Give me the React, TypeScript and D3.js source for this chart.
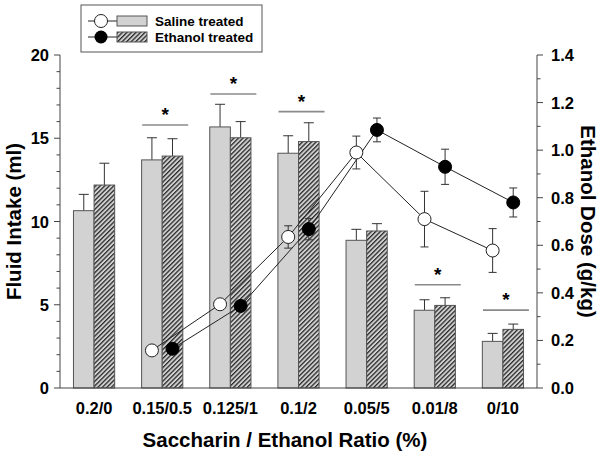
import React from "react";
import * as d3 from "d3";

const categories = ["0.2/0", "0.15/0.5", "0.125/1", "0.1/2", "0.05/5", "0.01/8", "0/10"];
const salineIntake = [10.65, 13.7, 15.68, 14.1, 8.87, 4.67, 2.8];
const salineIntakeErr = [0.98, 1.33, 1.36, 1.05, 0.66, 0.63, 0.48];
const ethanolIntake = [12.19, 13.93, 15.03, 14.8, 9.43, 4.96, 3.52];
const ethanolIntakeErr = [1.31, 1.04, 0.97, 1.13, 0.44, 0.46, 0.32];

// Ethanol dose (g/kg) — first category has no ethanol
const salineDose = [null, 0.158, 0.352, 0.635, 0.99, 0.71, 0.578];
const salineDoseErr = [null, 0.0, 0.015, 0.047, 0.069, 0.117, 0.092];
const ethanolDose = [null, 0.165, 0.345, 0.668, 1.085, 0.93, 0.78];
const ethanolDoseErr = [null, 0.0, 0.0, 0.045, 0.05, 0.074, 0.061];

const sigGroups = [1, 2, 3, 5, 6];
const sigLevels = [15.8, 17.66, 16.6, 6.2, 4.68];

const leftTicks = [0, 5, 10, 15, 20];
const rightTicks = [0, 0.2, 0.4, 0.6, 0.8, 1.0, 1.2, 1.4];

const FONT = "'Liberation Sans', Arial, Helvetica, sans-serif";

export default function App() {
  const W = 604, H = 457;
  const x0 = 60, x1 = 537, yTop = 55, yBot = 388;
  const x = d3.scaleBand<string>().domain(categories).range([x0, x1]).padding(0);
  const yL = d3.scaleLinear().domain([0, 20]).range([yBot, yTop]);
  const yR = d3.scaleLinear().domain([0, 1.4]).range([yBot, yTop]);
  const bw = 20.6;
  const cx = (i: number) => (x(categories[i]) as number) + x.bandwidth() / 2;

  const leftMinor = d3.range(0, 21, 1).filter((v) => v % 5 !== 0);
  const rightMinor = d3.range(1, 14, 2).map((v) => v / 10);

  const lineGen = d3
    .line<[number, number]>()
    .x((d) => d[0])
    .y((d) => d[1]);

  const salPts: [number, number][] = [];
  const ethPts: [number, number][] = [];
  categories.forEach((_, i) => {
    if (salineDose[i] != null) salPts.push([cx(i) - bw / 2, yR(salineDose[i] as number)]);
    if (ethanolDose[i] != null) ethPts.push([cx(i) + bw / 2, yR(ethanolDose[i] as number)]);
  });

  const errColor = "#333";
  const barStroke = "#555";
  const salFill = "#d2d2d2";

  return (
    <svg width={W} height={H} style={{ position: "absolute", left: 0, top: 0, background: "#fff" }} fontFamily={FONT}>
      <defs>
        <pattern id="hatch" patternUnits="userSpaceOnUse" width="3.2" height="3.2" patternTransform="rotate(45)">
          <rect width="3.2" height="3.2" fill="#d0d0d0" />
          <line x1="0.6" y1="0" x2="0.6" y2="3.2" stroke="#2a2a2a" strokeWidth="1.4" />
        </pattern>
      </defs>
      <rect width={W} height={H} fill="#fff" />

      {/* bars */}
      {categories.map((c, i) => {
        const cxi = cx(i);
        return (
          <g key={c}>
            <line x1={cxi - bw / 2} x2={cxi - bw / 2} y1={yL(salineIntake[i])} y2={yL(salineIntake[i] + salineIntakeErr[i])} stroke={errColor} />
            <line x1={cxi - bw / 2 - 5} x2={cxi - bw / 2 + 5} y1={yL(salineIntake[i] + salineIntakeErr[i])} y2={yL(salineIntake[i] + salineIntakeErr[i])} stroke={errColor} />
            <line x1={cxi + bw / 2} x2={cxi + bw / 2} y1={yL(ethanolIntake[i])} y2={yL(ethanolIntake[i] + ethanolIntakeErr[i])} stroke={errColor} />
            <line x1={cxi + bw / 2 - 5} x2={cxi + bw / 2 + 5} y1={yL(ethanolIntake[i] + ethanolIntakeErr[i])} y2={yL(ethanolIntake[i] + ethanolIntakeErr[i])} stroke={errColor} />
            <rect x={cxi - bw} y={yL(salineIntake[i])} width={bw} height={yBot - yL(salineIntake[i])} fill={salFill} stroke={barStroke} strokeWidth={1} />
            <rect x={cxi} y={yL(ethanolIntake[i])} width={bw} height={yBot - yL(ethanolIntake[i])} fill="url(#hatch)" stroke={barStroke} strokeWidth={1} />
          </g>
        );
      })}

      {/* significance */}
      {sigGroups.map((g, k) => {
        const c = cx(g) + 3;
        const yy = yL(sigLevels[k]);
        return (
          <g key={"s" + g}>
            <line x1={c - 23} x2={c + 23} y1={yy} y2={yy} stroke="#8a8a8a" strokeWidth={1.6} />
            <text x={c} y={yy - 4} textAnchor="middle" fontSize={19} fontWeight="bold" fill="#000">*</text>
          </g>
        );
      })}

      {/* lines */}
      <path d={lineGen(salPts) || ""} fill="none" stroke="#222" strokeWidth={1} />
      <path d={lineGen(ethPts) || ""} fill="none" stroke="#222" strokeWidth={1} />

      {/* point error bars */}
      {categories.map((c, i) => {
        const out: JSX.Element[] = [];
        const sv = salineDose[i], se = salineDoseErr[i];
        if (sv != null && se) {
          const px = cx(i) - bw / 2;
          out.push(
            <g key={"se" + i}>
              <line x1={px} x2={px} y1={yR(sv - se)} y2={yR(sv + se)} stroke={errColor} />
              <line x1={px - 4} x2={px + 4} y1={yR(sv - se)} y2={yR(sv - se)} stroke={errColor} />
              <line x1={px - 4} x2={px + 4} y1={yR(sv + se)} y2={yR(sv + se)} stroke={errColor} />
            </g>
          );
        }
        const ev = ethanolDose[i], ee = ethanolDoseErr[i];
        if (ev != null && ee) {
          const px = cx(i) + bw / 2;
          out.push(
            <g key={"ee" + i}>
              <line x1={px} x2={px} y1={yR(ev - ee)} y2={yR(ev + ee)} stroke={errColor} />
              <line x1={px - 4} x2={px + 4} y1={yR(ev - ee)} y2={yR(ev - ee)} stroke={errColor} />
              <line x1={px - 4} x2={px + 4} y1={yR(ev + ee)} y2={yR(ev + ee)} stroke={errColor} />
            </g>
          );
        }
        return out;
      })}

      {/* points */}
      {salPts.map((p, i) => (
        <circle key={"sp" + i} cx={p[0]} cy={p[1]} r={6.5} fill="#fff" stroke="#222" strokeWidth={1} />
      ))}
      {ethPts.map((p, i) => (
        <circle key={"ep" + i} cx={p[0]} cy={p[1]} r={6.5} fill="#000" stroke="#000" strokeWidth={1} />
      ))}

      {/* axes */}
      <line x1={x0} x2={x1} y1={yBot} y2={yBot} stroke="#444" />
      <line x1={x0} x2={x0} y1={yTop} y2={yBot} stroke="#444" />
      <line x1={x1} x2={x1} y1={yTop} y2={yBot} stroke="#444" />
      {leftTicks.map((t) => (
        <g key={"lt" + t}>
          <line x1={x0 - 6} x2={x0} y1={yL(t)} y2={yL(t)} stroke="#444" />
          <text x={x0 - 11} y={yL(t) + 6} textAnchor="end" fontSize={16.5} fontWeight="bold">{t}</text>
        </g>
      ))}
      {leftMinor.map((t) => (
        <line key={"lm" + t} x1={x0 - 3.5} x2={x0} y1={yL(t)} y2={yL(t)} stroke="#444" />
      ))}
      {rightTicks.map((t) => (
        <g key={"rt" + t}>
          <line x1={x1} x2={x1 + 6} y1={yR(t)} y2={yR(t)} stroke="#444" />
          <text x={x1 + 14} y={yR(t) + 6} textAnchor="start" fontSize={16.5} fontWeight="bold">{d3.format(".1f")(t)}</text>
        </g>
      ))}
      {rightMinor.map((t) => (
        <line key={"rm" + t} x1={x1} x2={x1 + 3.5} y1={yR(t)} y2={yR(t)} stroke="#444" />
      ))}
      {categories.map((c, i) => (
        <text key={"xl" + c} x={cx(i)} y={414} textAnchor="middle" fontSize={16.5} fontWeight="bold">{c}</text>
      ))}

      {/* axis titles */}
      <text x={285} y={447} textAnchor="middle" fontSize={20.5} fontWeight="bold">Saccharin / Ethanol Ratio (%)</text>
      <text transform={`translate(21,${(yTop + yBot) / 2}) rotate(-90)`} textAnchor="middle" fontSize={20.5} fontWeight="bold">Fluid Intake (ml)</text>
      <text transform={`translate(581,${(yTop + yBot) / 2}) rotate(90)`} textAnchor="middle" fontSize={20.5} fontWeight="bold">Ethanol Dose (g/kg)</text>

      {/* legend */}
      <rect x={81} y={5} width={181} height={47} fill="#fff" stroke="#555" strokeWidth={1} />
      <line x1={88} x2={117} y1={21} y2={21} stroke="#222" />
      <circle cx={101} cy={21} r={6.5} fill="#fff" stroke="#222" />
      <rect x={117} y={16} width={30} height={10} fill={salFill} stroke={barStroke} />
      <text x={155} y={25.5} fontSize={13.5} fontWeight="bold">Saline treated</text>
      <line x1={88} x2={117} y1={37} y2={37} stroke="#222" />
      <circle cx={101} cy={37} r={6.5} fill="#000" />
      <rect x={117} y={32} width={30} height={10} fill="url(#hatch)" stroke={barStroke} />
      <text x={155} y={41.5} fontSize={13.5} fontWeight="bold">Ethanol treated</text>
    </svg>
  );
}
